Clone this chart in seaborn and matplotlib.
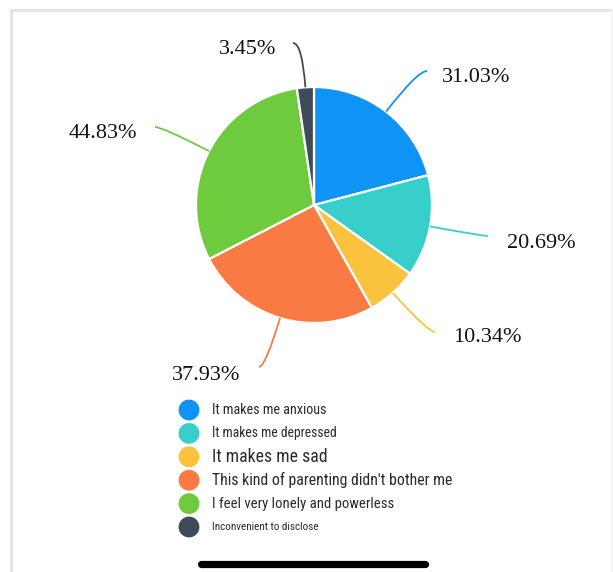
import numpy as np
import matplotlib
matplotlib.use("Agg")
import matplotlib.pyplot as plt
from matplotlib.path import Path
from matplotlib.patches import PathPatch
from matplotlib import font_manager
import seaborn as sns

# Survey answers (multiple choice, so shares add up to more than 100%)
categories = [
    "It makes me anxious",
    "It makes me depressed",
    "It makes me sad",
    "This kind of parenting didn't bother me",
    "I feel very lonely and powerless",
    "Inconvenient to disclose",
]
percentages = [31.03, 20.69, 10.34, 37.93, 44.83, 3.45]
colors = ["#0F94F5", "#38CFCB", "#FBC23D", "#FA7A44", "#6FCB3E", "#3E4C59"]

# Layout (pixels)
W, H, DPI = 613, 572, 100
CX, CY, R = 314, 205, 118
label_xy = [(476, 77), (541, 244), (487, 338), (206, 375), (103, 133), (248, 50)]
line_end = [(427, 71), (488, 236), (435, 332), (259, 367), (155, 127), (293, 43)]
legend_sizes = [10.2, 9.8, 12.8, 11.4, 10.6, 8.0]

sns.set_theme(style="white")
available = {f.name for f in font_manager.fontManager.ttflist}
legend_font = next(
    (f for f in ["Liberation Sans Narrow", "Roboto Condensed", "DejaVu Sans Condensed", "Roboto"]
     if f in available),
    "DejaVu Sans",
)
plt.rcParams["font.family"] = ["Liberation Serif", "DejaVu Serif"]
palette = sns.color_palette(colors)

fig = plt.figure(figsize=(W / DPI, H / DPI), dpi=DPI)
fig.patch.set_facecolor("white")

# Pixel-space layer: card frame, legend and home bar
bg = fig.add_axes([0, 0, 1, 1])
bg.set_xlim(0, W)
bg.set_ylim(H, 0)
bg.axis("off")
frame_c = "#e3e3e3"
bg.plot([10.5, 10.5], [H, 9.5], color=frame_c, lw=2)
bg.plot([10.5, 611.5], [9.5, 9.5], color=frame_c, lw=2)
bg.plot([611.5, 611.5], [9.5, H], color="#f2f2f2", lw=1.2)
bg.plot([201, 425], [563.5, 563.5], color="black", lw=5.2, solid_capstyle="round")

for i, (cat, col, fs) in enumerate(zip(categories, palette, legend_sizes)):
    y = 410 + i * 23.4
    bg.scatter([189], [y], s=225, color=col, edgecolors="none")
    bg.text(212, y, cat, ha="left", va="center", fontsize=fs,
            family=[legend_font, "DejaVu Sans"], color="#2b2b2b")

# Pie
ax = fig.add_axes([0, 0, 1, 1])
wedges, _ = ax.pie(percentages, colors=palette, startangle=90, counterclock=False,
                   radius=1, wedgeprops=dict(edgecolor="white", linewidth=1.6))
ax.set_aspect("auto")
ax.set_xlim(-CX / R, (W - CX) / R)
ax.set_ylim(-(H - CY) / R, CY / R)
ax.axis("off")


def to_data(px, py):
    return ((px - CX) / R, (CY - py) / R)


# Curved leader lines and percentage labels
for w, pct, col, end, txy in zip(wedges, percentages, palette, line_end, label_xy):
    mid = np.deg2rad((w.theta1 + w.theta2) / 2)
    ux, uy = np.cos(mid), np.sin(mid)
    ex, ey = to_data(*end)
    t = (ey - uy) / uy
    p1 = (ux + t * ux, ey)
    path = Path([(ux, uy), p1, (ex, ey)], [Path.MOVETO, Path.CURVE3, Path.CURVE3])
    ax.add_patch(PathPatch(path, facecolor="none", edgecolor=col, lw=1.3))
    ax.text(*to_data(*txy), f"{pct:.2f}%", ha="center", va="center",
            fontsize=16, color="#111111")

fig.savefig("out.png", dpi=DPI)
